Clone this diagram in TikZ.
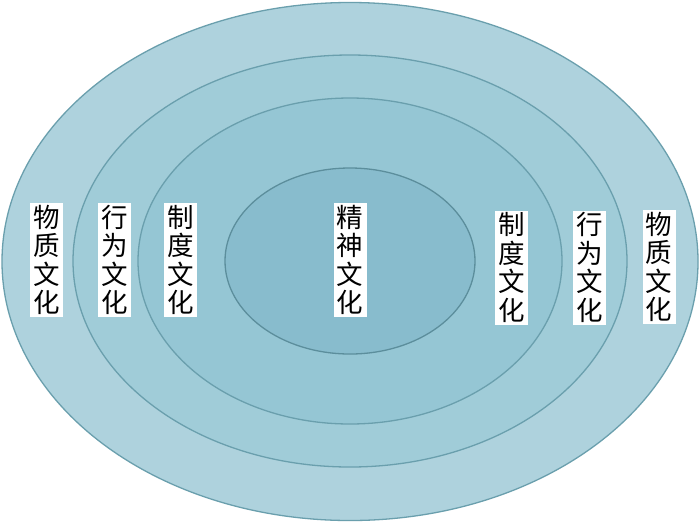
\documentclass[tikz,border=0pt]{standalone}
\usepackage{fontspec}
\newfontfamily\cjk{Noto Sans CJK SC}
\definecolor{ringA}{HTML}{AED2DD}
\definecolor{ringB}{HTML}{A0CCD8}
\definecolor{ringC}{HTML}{95C6D4}
\definecolor{ringD}{HTML}{88BCCD}
\definecolor{ringline}{HTML}{6A9FAD}
\definecolor{coreline}{HTML}{5C8E9C}
\tikzset{
  ring/.style={draw=ringline, line width=1.3pt},
  lab/.style={fill=white, inner sep=0pt, minimum width=33pt, minimum height=114pt,
    align=center, font=\cjk\fontsize{26.5}{28.5}\selectfont}
}
\begin{document}
\begin{tikzpicture}[x=1pt,y=-1pt]
\useasboundingbox (0,0) rectangle (700,523);
\fill[white] (0,0) rectangle (700,523);
\draw[ring, fill=ringA] (350,261.5) ellipse [x radius=348, y radius=259];
\draw[ring, fill=ringB] (350,261) ellipse [x radius=277, y radius=206];
\draw[ring, fill=ringC] (350,261) ellipse [x radius=212, y radius=163];
\draw[ring, draw=coreline, fill=ringD] (350,261) ellipse [x radius=125, y radius=93];
\node[lab] (l1) at (46.5,260) {物\\质\\文\\化};
\node[lab] (l2) at (114.5,260) {行\\为\\文\\化};
\node[lab] (l3) at (180.5,260) {制\\度\\文\\化};
\node[lab] (c)  at (350,260) {精\\神\\文\\化};
\node[lab] (r3) at (511.5,267.5) {制\\度\\文\\化};
\node[lab] (r2) at (589.5,267.5) {行\\为\\文\\化};
\node[lab] (r1) at (659,267) {物\\质\\文\\化};
\end{tikzpicture}
\end{document}
